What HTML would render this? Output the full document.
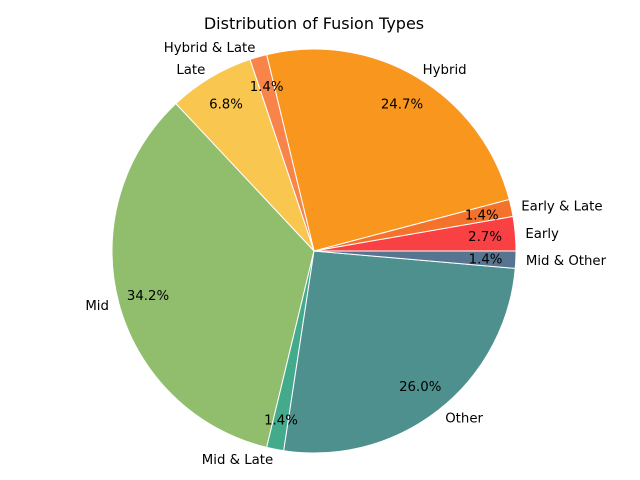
<!DOCTYPE html>
<html><head><meta charset="utf-8"><style>
html,body{margin:0;padding:0;background:#fff;}
svg{display:block;font-family:"DejaVu Sans","Liberation Sans",sans-serif;}
</style></head><body>
<svg id="chart" width="640" height="480" viewBox="0 0 640 480">
<text x="314" y="29" text-anchor="middle" font-size="16" fill="#000">Distribution of Fusion Types</text>
<g id="slices"></g>
<g id="labels"></g>
</svg>
<script>
const categories = ["Early","Early & Late","Hybrid","Hybrid & Late","Late","Mid","Mid & Late","Other","Mid & Other"];
const counts = [2,1,18,1,5,25,1,19,1];
const colors = ["#f94144","#f3722c","#f8961e","#f9844a","#f9c74f","#90be6d","#43aa8b","#4d908e","#577590"];
const cx=314, cy=251, R=202;
const NS="http://www.w3.org/2000/svg";
const total=counts.reduce((a,b)=>a+b,0);
const gs=document.getElementById('slices'), gl=document.getElementById('labels');
let a0=0;
function pt(a,r){return [cx+r*Math.cos(a), cy-r*Math.sin(a)];}
counts.forEach((v,i)=>{
  const frac=v/total, a1=a0+frac*2*Math.PI;
  const p0=pt(a0,R), p1=pt(a1,R);
  const large=(a1-a0)>Math.PI?1:0;
  const path=document.createElementNS(NS,'path');
  path.setAttribute('d',`M${cx},${cy} L${p0[0]},${p0[1]} A${R},${R} 0 ${large} 0 ${p1[0]},${p1[1]} Z`);
  path.setAttribute('fill',colors[i]);
  path.setAttribute('stroke','#fff');
  path.setAttribute('stroke-width','1');
  
  
  gs.appendChild(path);
  const am=(a0+a1)/2;
  const lp=pt(am,R*1.05);
  const t=document.createElementNS(NS,'text');
  t.setAttribute('x',lp[0]); t.setAttribute('y',lp[1]+5);
  t.setAttribute('font-size','13.3');
  t.setAttribute('text-anchor',Math.cos(am)>=0?'start':'end');
  t.textContent=categories[i];
  
  
  gl.appendChild(t);
  const pp=pt(am,R*0.85);
  const p=document.createElementNS(NS,'text');
  p.setAttribute('x',pp[0]); p.setAttribute('y',pp[1]+5);
  p.setAttribute('font-size','13.3');
  p.setAttribute('text-anchor','middle');
  p.textContent=(frac*100).toFixed(1)+'%';
  
  
  gl.appendChild(p);
  a0=a1;
});
</script>
</body></html>
